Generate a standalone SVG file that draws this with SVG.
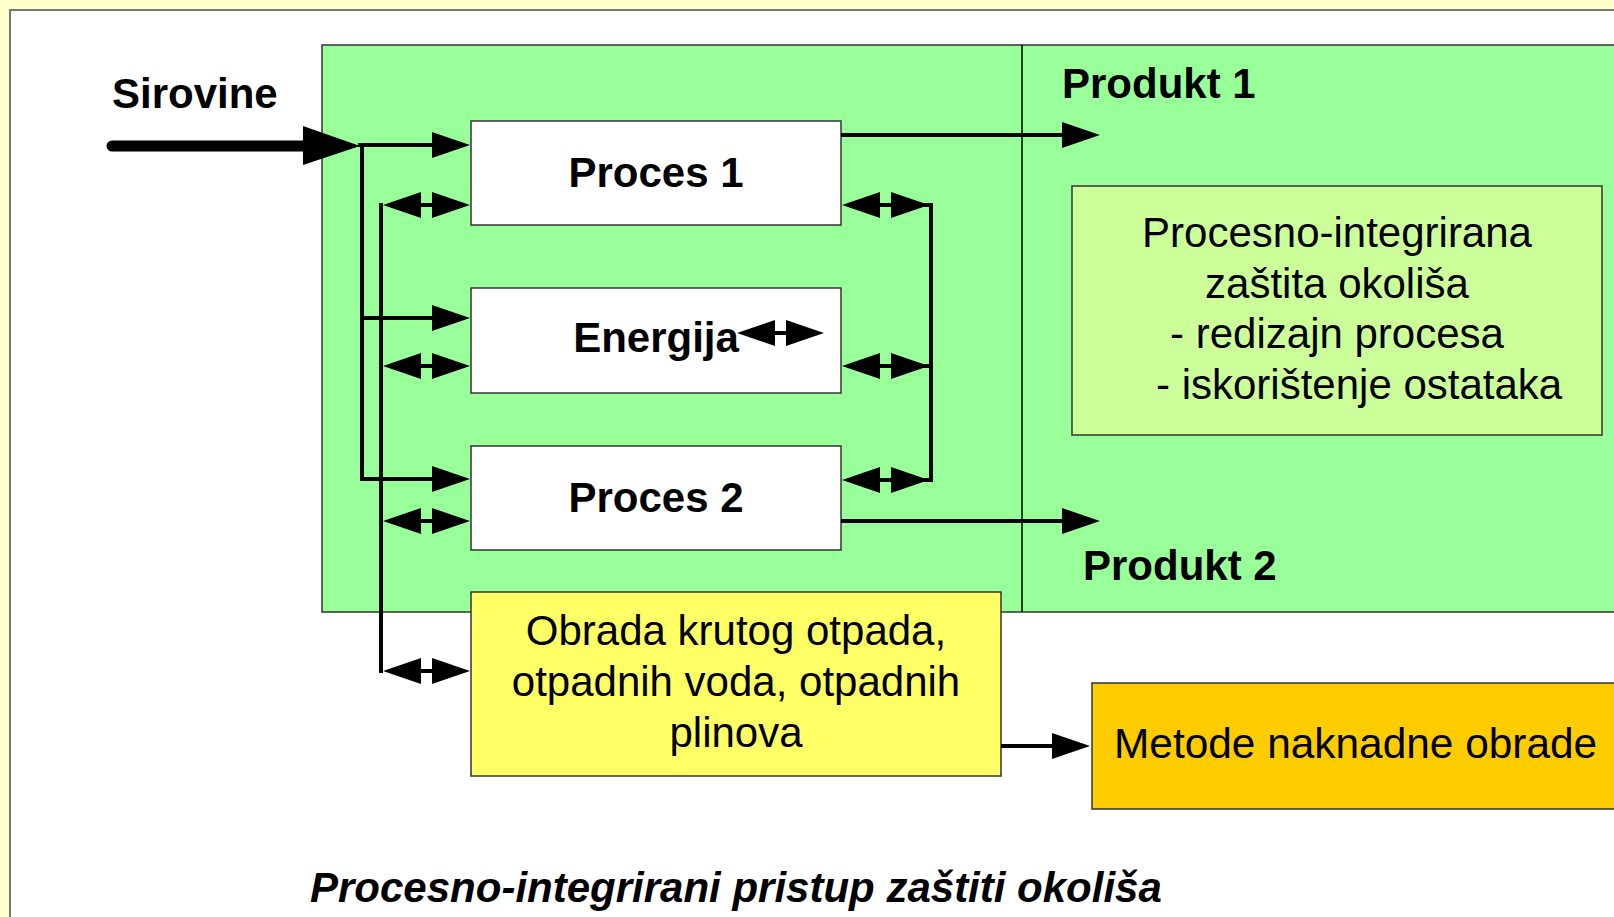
<svg xmlns="http://www.w3.org/2000/svg" width="1614" height="917" viewBox="0 0 1614 917">
<defs>
<style>
text{font-family:"Liberation Sans",Arial,sans-serif;font-size:42px;fill:#000}
.b{font-weight:bold}
.bi{font-weight:bold;font-style:italic}
.box{stroke:#333;stroke-width:1.5}
.ln{stroke:#000;stroke-width:4;fill:none}
.ar{stroke:#000;stroke-width:4;fill:none;marker-end:url(#ah)}
.da{stroke:#000;stroke-width:4;fill:none;marker-start:url(#ah);marker-end:url(#ah)}
</style>
<marker id="ah" markerUnits="userSpaceOnUse" markerWidth="38" markerHeight="26" refX="28" refY="13" orient="auto-start-reverse" viewBox="0 0 38 26">
<path d="M0,0 L38,13 L0,26 z" fill="#000"/>
</marker>
</defs>
<rect x="0" y="0" width="1614" height="917" fill="#FFFFCC"/>
<rect x="10" y="10" width="1620" height="920" fill="#FFFFFF" stroke="#777" stroke-width="2"/>
<g id="main-area">
<rect class="box" x="322" y="45" width="1300" height="567" fill="#99FF99"/>
<line x1="1022" y1="45" x2="1022" y2="612" stroke="#000" stroke-width="1.5"/>
</g>
<g id="proces1">
<rect class="box" x="471" y="121" width="370" height="104" fill="#FFFFFF"/>
<text class="b" x="656" y="187" text-anchor="middle">Proces 1</text>
</g>
<g id="energija">
<rect class="box" x="471" y="288" width="370" height="105" fill="#FFFFFF"/>
<text class="b" x="656" y="352" text-anchor="middle">Energija</text>
</g>
<g id="proces2">
<rect class="box" x="471" y="446" width="370" height="104" fill="#FFFFFF"/>
<text class="b" x="656" y="512" text-anchor="middle">Proces 2</text>
</g>
<g id="integrirana">
<rect class="box" x="1072" y="186" width="530" height="249" fill="#CCFF99"/>
<text x="1337" y="247" text-anchor="middle">Procesno-integrirana</text>
<text x="1337" y="298" text-anchor="middle">zaštita okoliša</text>
<text x="1337" y="348" text-anchor="middle">- redizajn procesa</text>
<text x="1156" y="399">- iskorištenje ostataka</text>
</g>
<g id="obrada">
<rect class="box" x="471" y="592" width="530" height="184" fill="#FFFF66"/>
<text x="736" y="645" text-anchor="middle">Obrada krutog otpada,</text>
<text x="736" y="696" text-anchor="middle">otpadnih voda, otpadnih</text>
<text x="736" y="747" text-anchor="middle">plinova</text>
</g>
<g id="metode">
<rect class="box" x="1092" y="683" width="540" height="126" fill="#FFCC00"/>
<text x="1114" y="758" style="font-size:42.4px">Metode naknadne obrade</text>
</g>
<g id="labels">
<text class="b" x="112" y="108">Sirovine</text>
<text class="b" x="1062" y="98">Produkt 1</text>
<text class="b" x="1083" y="580">Produkt 2</text>
<text class="bi" x="310" y="902">Procesno-integrirani pristup zaštiti okoliša</text>
</g>
<g id="connectors">
<line x1="112" y1="146" x2="312" y2="146" stroke="#000" stroke-width="11" stroke-linecap="round"/>
<polygon points="303,126 360,146 303,165" fill="#000"/>
<line class="ar" x1="358" y1="145" x2="460" y2="145"/>
<polyline class="ln" points="362,145 362,479"/>
<line class="ar" x1="362" y1="318" x2="460" y2="318"/>
<line class="ar" x1="360" y1="479" x2="460" y2="479"/>
<line class="ln" x1="381" y1="203" x2="381" y2="673"/>
<line class="da" x1="393" y1="205" x2="460" y2="205"/>
<line class="da" x1="393" y1="366" x2="460" y2="366"/>
<line class="da" x1="393" y1="521" x2="460" y2="521"/>
<line class="da" x1="393" y1="671" x2="460" y2="671"/>
<line class="da" x1="852" y1="205" x2="919" y2="205"/>
<line class="da" x1="852" y1="366" x2="919" y2="366"/>
<line class="da" x1="852" y1="480" x2="919" y2="480"/>
<line class="ln" x1="931" y1="203" x2="931" y2="482"/>
<line class="ln" x1="919" y1="205" x2="931" y2="205"/>
<line class="ln" x1="919" y1="366" x2="931" y2="366"/>
<line class="ln" x1="919" y1="480" x2="931" y2="480"/>
<line class="da" x1="747" y1="333" x2="814" y2="333"/>
<line class="ar" x1="841" y1="135" x2="1090" y2="135"/>
<line class="ar" x1="841" y1="521" x2="1090" y2="521"/>
<line class="ar" x1="1001" y1="746" x2="1080" y2="746"/>
</g>
</svg>
